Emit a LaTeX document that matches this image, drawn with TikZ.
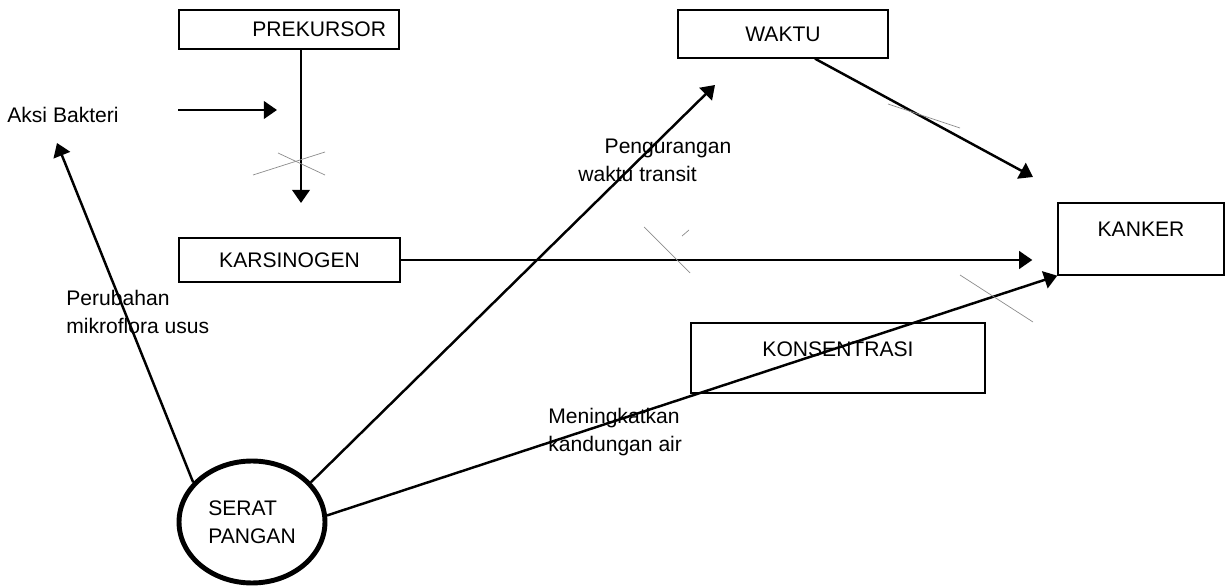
\documentclass[tikz,border=0pt]{standalone}
\usepackage{fontspec}
\setmainfont{Liberation Sans}
\usetikzlibrary{arrows.meta,shapes.geometric}

\tikzset{
  box/.style={draw, line width=0.8pt, inner sep=0pt},
  txt/.style={inner sep=0pt, align=left, anchor=west},
  arr/.style={-{Triangle[length=7.5pt,width=10pt]}, line width=1.4pt},
  cut/.style={draw=black!45, line width=0.4pt},
}

\begin{document}
\begin{tikzpicture}[x=0.02cm, y=-0.02cm, font=\fontsize{12}{16}\selectfont]
  \useasboundingbox (0,0) rectangle (1227,587);

  \node[box, minimum width=4.4cm, minimum height=0.78cm, text width=3.88cm, align=right] (prek) at (289,29.5) {PREKURSOR};
  \node[box, minimum width=4.2cm, minimum height=0.96cm] (waktu) at (783,34) {WAKTU};
  \node[box, minimum width=4.42cm, minimum height=0.88cm] (kars) at (289.5,260) {KARSINOGEN};
  \node[box, minimum width=3.32cm, minimum height=1.44cm, text depth=11pt] (kank) at (1141,239) {KANKER};
  \node[box, minimum width=5.88cm, minimum height=1.40cm, text depth=10pt] (kons) at (838,358) {KONSENTRASI};
  \node[ellipse, draw, line width=2.8pt, minimum width=2.92cm, minimum height=2.44cm, inner sep=0pt, align=left] (serat) at (252,522) {SERAT\\PANGAN};

  \node[txt] (aksi) at (7,115) {Aksi Bakteri};
  \node[txt] (perubahan) at (66,312) {Perubahan\\mikroflora usus};
  \node[txt] (pengurangan) at (578,160) {\hspace{15pt}Pengurangan\\waktu transit};
  \node[txt] (meningkatkan) at (548,432) {Meningkatkan\\kandungan air};

  \coordinate (bakteri) at (178,110);
  \coordinate (bakteri tip) at (277,110);
  \coordinate (prek tip) at (301,203);
  \coordinate (aksi tip) at (57,143);
  \coordinate (waktu tip) at (715,85);
  \coordinate (kank tip) at (1033,177);

  \draw[arr] (bakteri) -- (bakteri tip);
  \draw[arr] (prek.south -| prek tip) -- (prek tip);
  \draw[arr, shorten >=0.5cm] (kars.east) -- (kars.east -| kank.west);
  \draw[arr] ([xshift=0.64cm]waktu.south) -- (kank tip);
  \draw[arr] (serat.146) -- (aksi tip);
  \draw[arr] (serat.34) -- (waktu tip);
  \draw[arr] (serat.5) -- (kank.south west);

  % cut marks
  \draw[cut] (253,175) -- (325,152);
  \draw[cut] (278,153) -- (325,175);
  \draw[cut] (644,227) -- (690,273);
  \draw[cut] (682,236) -- (689,230);
  \draw[cut] (888,104) -- (960,128);
  \draw[cut] (960,275) -- (1033,322);
\end{tikzpicture}
\end{document}
